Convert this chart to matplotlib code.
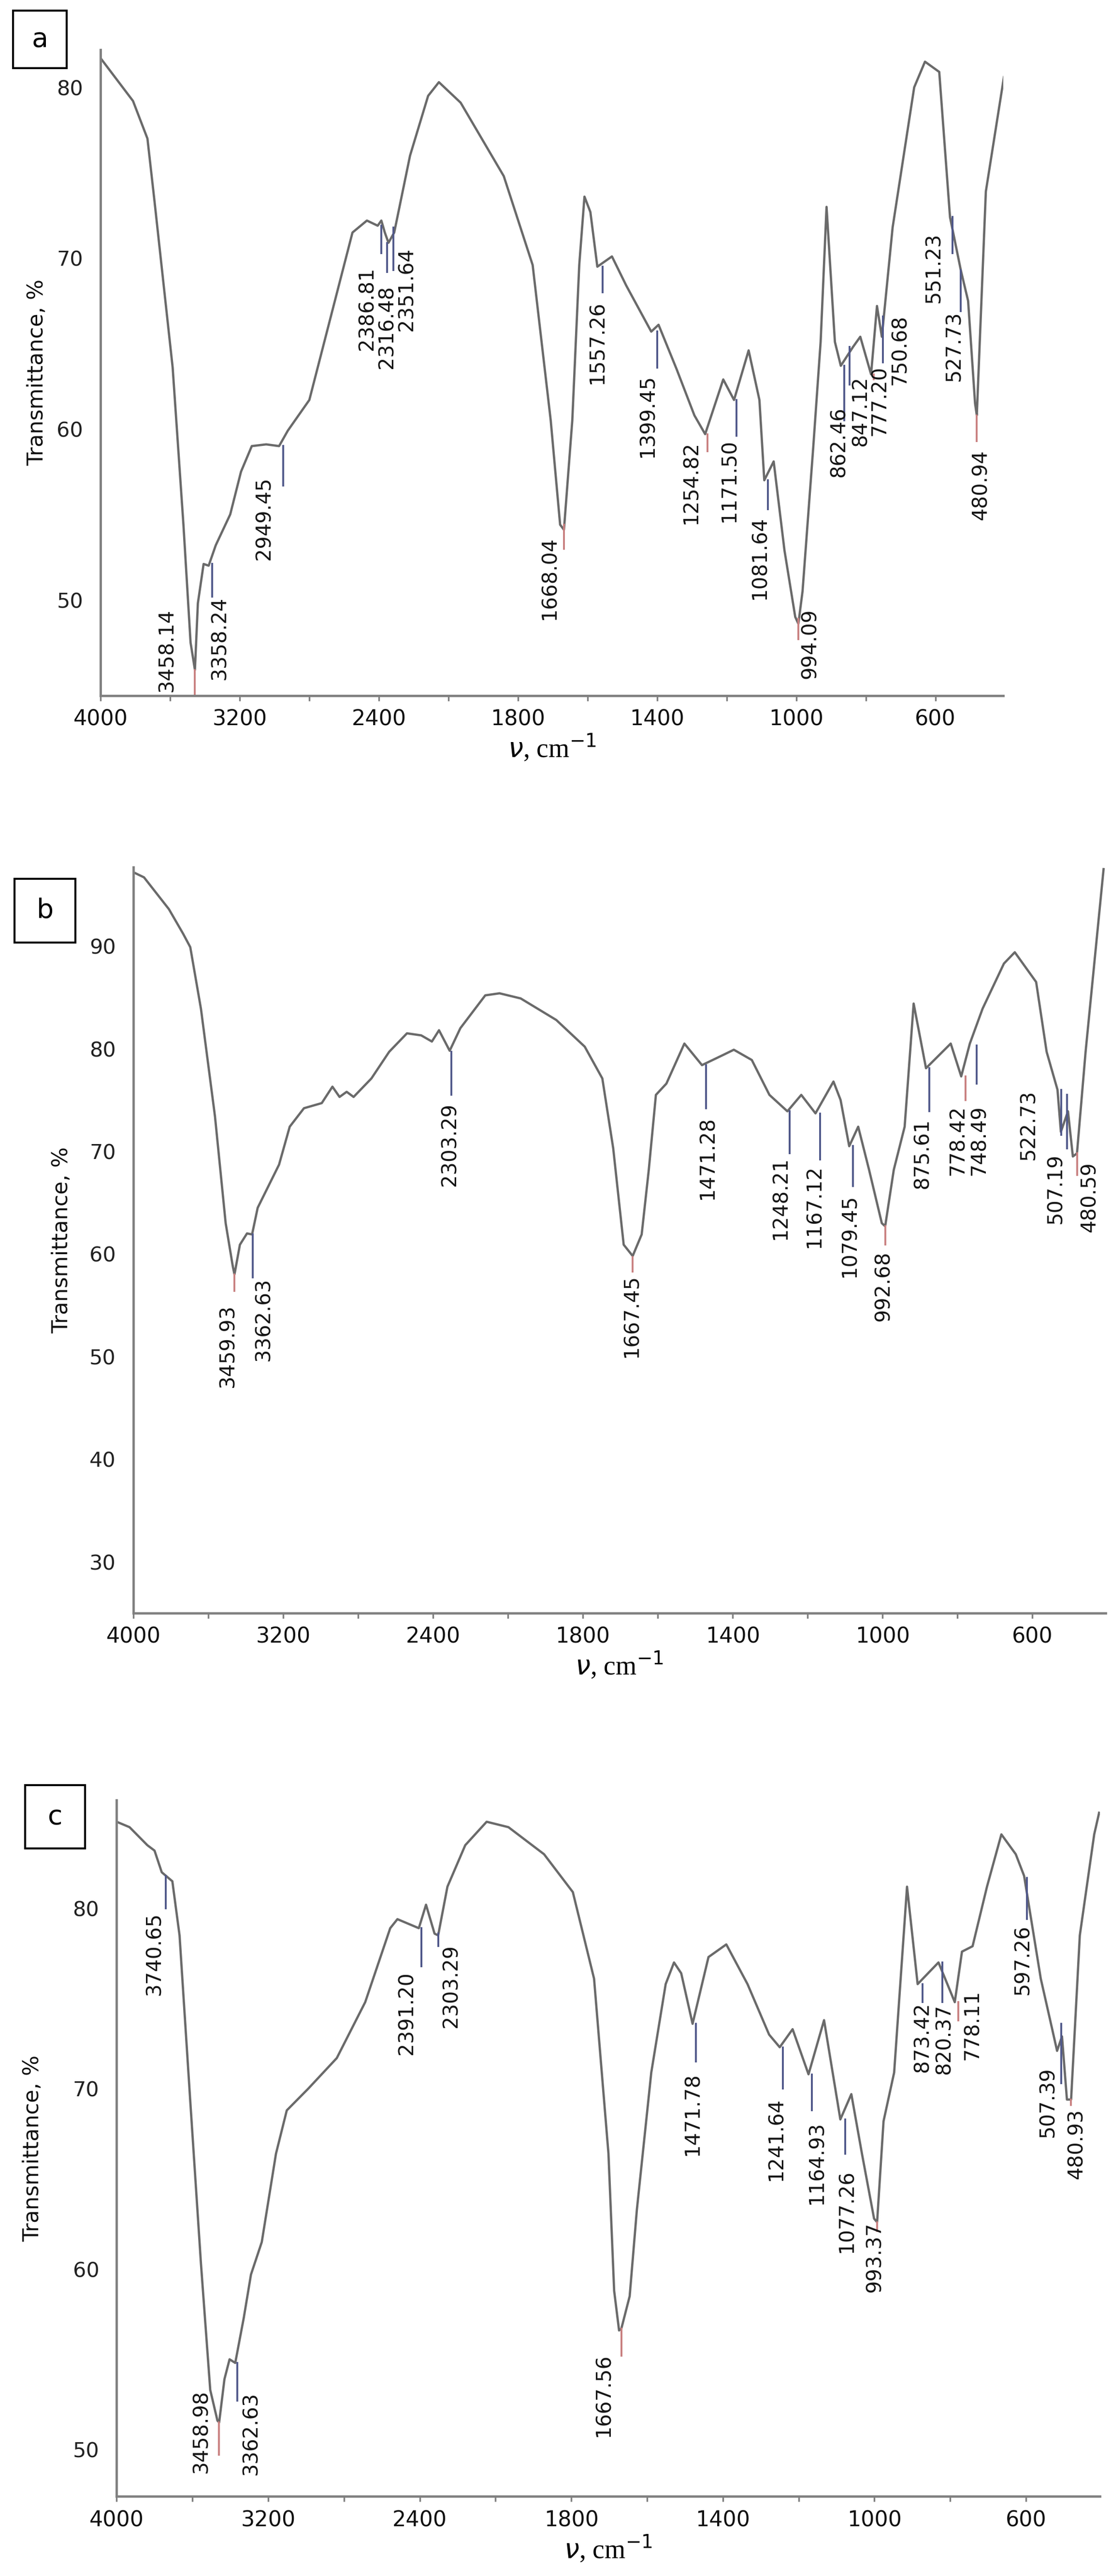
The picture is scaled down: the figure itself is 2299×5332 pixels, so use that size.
import numpy as np
import matplotlib
matplotlib.use("Agg")
import matplotlib.pyplot as plt
from matplotlib.patches import Rectangle

# ---------------- data ----------------
a_wn = [4000,3814,3731,3690,3586,3524,3483,3458,3441,3408,3379,3338,3255,3193,3131,3048,2974,2924,2800,2676,2552,2469,
        2407,2386,2366,2345,2312,2221,2117,2055,1965,1841,1758,1706,1679,1668,1644,1624,1609,1592,1572,1530,1489,1417,
        1396,1344,1293,1262,1210,1179,1137,1106,1092,1065,1034,1003,994,982,951,930,913,889,872,837,816,785,768,754,723,
        661,630,589,558,527,506,486,481,455,403]
a_T = [81.7,79.2,77.0,73.3,63.6,54.4,47.5,45.9,49.8,52.1,52.0,53.2,55.0,57.5,59.0,59.1,59.0,59.9,61.7,66.6,71.5,72.2,
       71.9,72.2,71.5,70.9,71.5,76.0,79.5,80.3,79.1,74.8,69.6,60.5,54.4,54.1,60.5,69.6,73.6,72.7,69.5,70.1,68.4,65.7,
       66.1,63.5,60.8,59.7,62.9,61.7,64.6,61.7,57.0,58.1,52.9,49.0,48.6,50.5,59.0,65.1,73.0,65.1,63.7,64.8,65.4,63.2,67.2,65.4,71.8,
       80.0,81.5,80.9,72.4,69.3,67.5,61.5,60.8,73.9,80.6]

b_wn = [4000,3943,3810,3734,3696,3639,3564,3507,3469,3460,3431,3393,3366,3336,3279,3222,3165,3089,2994,2937,2899,2861,2824,
        2729,2634,2539,2463,2406,2368,2311,2254,2121,2045,1966,1871,1795,1748,1719,1691,1667,1643,1624,1605,1577,1529,1482,
        1425,1397,1349,1302,1254,1217,1179,1131,1112,1089,1065,1036,1002,993,970,941,917,884,818,790,767,733,676,647,590,
        562,533,524,505,492,481,458,410]
b_T = [97.2,96.7,93.6,91.2,89.9,83.9,73.4,63.0,58.8,58.0,60.9,62.0,61.9,64.5,66.6,68.7,72.4,74.2,74.7,76.3,75.3,75.8,75.3,
       77.1,79.7,81.5,81.3,80.7,81.8,79.8,82.0,85.2,85.4,84.9,82.8,80.2,77.1,70.3,60.9,59.8,61.9,68.2,75.5,76.6,80.5,78.4,
       79.4,79.9,78.9,75.5,73.9,75.5,73.7,76.8,75.0,70.5,72.4,68.2,63.0,62.7,68.2,72.4,84.4,78.1,80.5,77.3,80.5,83.9,88.3,89.4,86.5,
       79.7,76.0,71.9,73.9,69.5,69.8,79.7,97.5]

c_wn = [4000,3932,3838,3800,3762,3706,3668,3612,3555,3506,3468,3459,3431,3404,3374,3329,3291,3234,3159,3102,2989,2838,2688,
        2556,2518,2405,2367,2322,2303,2254,2160,2047,1966,1872,1796,1740,1702,1687,1674,1668,1646,1627,1589,1551,1529,1510,1480,
        1438,1391,1335,1278,1250,1216,1174,1133,1090,1061,1033,1001,993,976,948,914,886,854,831,788,769,741,703,665,627,605,
        561,533,518,505,492,481,458,420,407]
c_T = [84.8,84.5,83.5,83.2,82.0,81.5,78.5,69.4,60.3,53.3,51.6,51.5,53.9,55.0,54.8,57.3,59.7,61.5,66.4,68.8,70.0,71.7,74.8,
       78.9,79.4,78.9,80.2,78.6,78.5,81.2,83.5,84.8,84.5,83.0,80.9,76.1,66.4,58.8,56.6,56.7,58.5,63.3,70.9,75.8,77.0,76.4,73.6,
       77.3,78.0,75.8,73.0,72.3,73.3,70.8,73.8,68.3,69.7,66.4,62.8,62.6,68.2,70.9,81.2,75.8,76.5,77.0,74.8,77.6,77.9,81.2,84.1,83.0,81.8,
       76.1,73.5,72.1,72.9,69.4,69.4,78.5,84.1,85.3]

# peak annotations: label, wavenumber, line top, line bottom, text wavenumber, text top, red?
a_lab = ["3458.14","3358.24","2949.45","2386.81","2316.48","2351.64","1668.04","1557.26","1399.45","1254.82","1171.50",
         "1081.64","994.09","862.46","847.12","777.20","750.68","551.23","527.73","480.94"]
a_pk = [3458.14,3358.24,2949.45,2386.81,2316.48,2351.64,1668.04,1557.26,1399.45,1254.82,1171.50,1081.64,994.09,862.46,
        847.12,777.20,750.68,551.23,527.73,480.94]
a_top = [45.9,52.1,59.0,71.9,71.8,70.9,54.4,69.5,65.7,59.7,61.7,57.0,48.9,63.7,64.8,63.2,66.6,72.4,69.3,60.8]
a_bot = [44.4,50.2,56.7,70.3,69.3,69.2,53.0,68.0,63.6,58.7,59.6,55.3,47.7,60.5,62.6,62.9,63.9,70.3,66.9,59.3]
a_tx = [3619,3317,3061,2469,2353,2241,1710,1572,1427,1303,1193,1106,961,878,816,760,702,605,547,470]
a_ty = [49.5,50.2,57.2,69.5,68.4,70.6,53.7,67.5,63.2,59.3,59.4,54.9,49.5,61.3,63.1,63.7,66.7,71.5,66.9,58.8]
a_red = [1,0,0,0,0,0,1,0,0,1,0,0,1,0,0,1,0,0,0,1]

b_lab = ["3459.93","3362.63","2303.29","1667.45","1471.28","1248.21","1167.12","1079.45","992.68","875.61","778.42",
         "748.49","522.73","507.19","480.59"]
b_pk = [3459.93,3362.63,2303.29,1667.45,1471.28,1248.21,1167.12,1079.45,992.68,875.61,778.42,748.49,522.73,507.19,480.59]
b_top = [58.0,61.9,79.7,59.7,78.4,73.9,73.7,70.5,62.7,78.1,77.3,80.3,76.0,75.5,69.8]
b_bot = [56.4,57.7,75.5,58.3,74.2,69.8,69.2,66.6,60.9,73.9,75.0,76.6,71.6,70.3,67.7]
b_tx = [3495,3306,2311,1670,1467,1273,1182,1088,998,894,799,742,610,538,448]
b_ty = [55.1,57.7,74.7,58.0,73.4,69.5,68.7,65.8,60.3,73.2,74.5,74.5,76.0,69.8,69.0]
b_red = [1,0,0,1,0,0,0,0,1,0,1,0,0,0,1]

c_lab = ["3740.65","3458.98","3362.63","2391.20","2303.29","1667.56","1471.78","1241.64","1164.93","1077.26","993.37",
         "873.42","820.37","778.11","597.26","507.39","480.93"]
c_pk = [3740.65,3458.98,3362.63,2391.20,2303.29,1667.56,1471.78,1241.64,1164.93,1077.26,993.37,873.42,820.37,778.11,
        597.26,507.39,480.93]
c_top = [81.8,51.5,54.8,78.9,78.6,56.7,73.6,72.3,70.8,68.3,62.6,75.8,77.0,74.8,81.7,73.6,69.4]
c_bot = [80.0,49.7,52.7,76.8,77.9,55.2,71.5,70.0,68.8,66.4,62.1,74.8,74.8,73.8,79.4,70.3,69.1]
c_tx = [3800,3555,3291,2469,2235,1715,1480,1259,1152,1074,999,873,816,741,609,543,467]
c_ty = [79.8,53.3,53.2,76.5,78.0,55.3,70.9,69.5,68.2,65.5,62.6,74.8,74.7,75.5,79.1,71.2,68.9]
c_red = [0,1,0,0,0,1,0,0,0,0,1,0,0,1,0,0,1]

x_major = [4000,3200,2400,1800,1400,1000,600]
x_minor = [3600,2800,2000,1600,1200,800]

# ---------------- figure ----------------
W, H = 2299, 5332
fig = plt.figure(figsize=(W/100, H/100), dpi=100)

def fwd(v):
    v = np.asarray(v, dtype=float)
    return np.where(v <= 2000, v, 2000 + (v - 2000) / 2.0)

def inv(x):
    x = np.asarray(x, dtype=float)
    return np.where(x <= 2000, x, 2000 + (x - 2000) * 2.0)

panels = [
    dict(rect=[0.0906, 0.730, 0.8124, 0.2507], wn=a_wn, T=a_T, ylim=(44.4, 82.2), yt=[50,60,70,80],
         ann=(a_lab,a_pk,a_top,a_bot,a_tx,a_ty,a_red), box=(0.0117,0.9736,0.0483,0.0223), letter="a", ylx=-0.059),
    dict(rect=[0.120, 0.3738, 0.875, 0.2896], wn=b_wn, T=b_T, ylim=(25.0, 97.7), yt=[30,40,50,60,70,80,90],
         ann=(b_lab,b_pk,b_top,b_bot,b_tx,b_ty,b_red), box=(0.013,0.6341,0.055,0.0248), letter="b", ylx=-0.063),
    dict(rect=[0.105, 0.0309, 0.885, 0.2703], wn=c_wn, T=c_T, ylim=(47.4, 86.0), yt=[50,60,70,80],
         ann=(c_lab,c_pk,c_top,c_bot,c_tx,c_ty,c_red), box=(0.0226,0.2824,0.054,0.0246), letter="c", ylx=-0.075),
]

for p in panels:
    ax = fig.add_axes(p["rect"])
    ax.set_xscale("function", functions=(fwd, inv))
    ax.plot(p["wn"], p["T"], color="#6a6a6a", lw=3.4, solid_joinstyle="round")
    ax.set_xlim(4000, 405)
    ax.set_ylim(*p["ylim"])
    lab, pk, top, bot, tx, ty, red = p["ann"]
    for L, v, t0, t1, xv, yv, r in zip(lab, pk, top, bot, tx, ty, red):
        ax.plot([v, v], [t0, t1], color=("#c98080" if r else "#50588a"), lw=2.8)
        ax.text(xv, yv, L, rotation=90, ha="center", va="top", fontsize=30,
                color="#151515", family="DejaVu Sans")
    for s in ["top", "right"]:
        ax.spines[s].set_visible(False)
    for s in ["left", "bottom"]:
        ax.spines[s].set_color("#808080")
        ax.spines[s].set_linewidth(3.5)
    ax.set_xticks(x_major)
    ax.set_xticklabels([str(v) for v in x_major])
    ax.set_xticks(x_minor, minor=True)
    ax.tick_params(axis="x", which="major", length=8, width=2.5, color="#808080", labelsize=32, pad=12,
                   labelcolor="#111111")
    ax.tick_params(axis="x", which="minor", length=8, width=2.5, color="#808080")
    ax.set_yticks(p["yt"])
    ax.tick_params(axis="y", length=0, labelsize=31, pad=26, labelcolor="#222222")
    ax.set_ylabel("Transmittance, %", fontsize=32, color="#111111")
    ax.yaxis.set_label_coords(p["ylx"], 0.5)
    ax.set_xlabel(r"$\nu$, cm$^{-1}$", fontsize=40, family="Liberation Serif", labelpad=4)
    ax.patch.set_alpha(0)
    bx, by, bw, bh = p["box"]
    fig.patches.append(Rectangle((bx, by), bw, bh, transform=fig.transFigure, fill=False,
                                 edgecolor="black", lw=3))
    fig.text(bx + bw/2, by + bh/2, p["letter"], ha="center", va="center", fontsize=40)

fig.savefig("out.png", dpi=100, facecolor="white")
